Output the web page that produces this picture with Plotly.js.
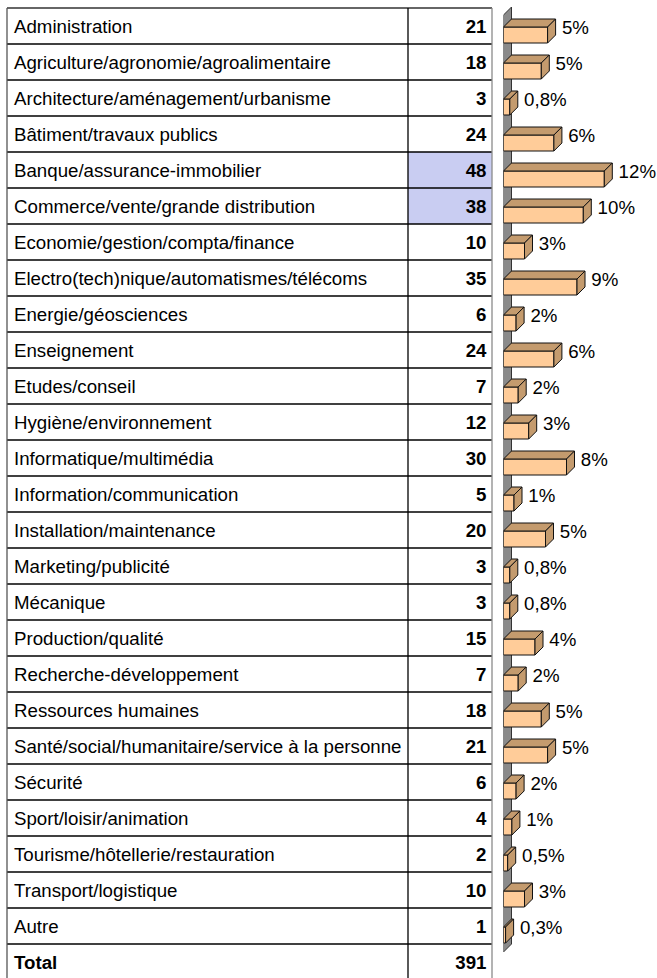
<!DOCTYPE html>
<html><head><meta charset="utf-8">
<script src="https://cdn.plot.ly/plotly-3.0.1.min.js"></script>
<style>html,body{margin:0;padding:0;background:#fff}#chart{width:657px;height:978px}</style>
</head><body><div id="chart"></div>
<script>
// ---------- DATA ----------
const categories = [
  "Administration",
  "Agriculture/agronomie/agroalimentaire",
  "Architecture/aménagement/urbanisme",
  "Bâtiment/travaux publics",
  "Banque/assurance-immobilier",
  "Commerce/vente/grande distribution",
  "Economie/gestion/compta/finance",
  "Electro(tech)nique/automatismes/télécoms",
  "Energie/géosciences",
  "Enseignement",
  "Etudes/conseil",
  "Hygiène/environnement",
  "Informatique/multimédia",
  "Information/communication",
  "Installation/maintenance",
  "Marketing/publicité",
  "Mécanique",
  "Production/qualité",
  "Recherche-développement",
  "Ressources humaines",
  "Santé/social/humanitaire/service à la personne",
  "Sécurité",
  "Sport/loisir/animation",
  "Tourisme/hôtellerie/restauration",
  "Transport/logistique",
  "Autre"
];
const counts = [21,18,3,24,48,38,10,35,6,24,7,12,30,5,20,3,3,15,7,18,21,6,4,2,10,1];
const pctLabels = ["5%","5%","0,8%","6%","12%","10%","3%","9%","2%","6%","2%","3%","8%","1%","5%","0,8%","0,8%","4%","2%","5%","5%","2%","1%","0,5%","3%","0,3%"];
const totalLabel = "Total";
const totalCount = 391;
const highlighted = ["Banque/assurance-immobilier","Commerce/vente/grande distribution"];

// ---------- GEOMETRY / STYLE ----------
const W = 657, H = 978;
const ROW = 36, TOP = 8;
const TL = 7, TM = 408, TR = 492;      // table column edges (px)
const X0 = 503.5, PXU = 2.1;           // bar zero position, px per unit
const DX = 8 / PXU, DY = 8 / ROW;      // 3D depth
const TXT_DY = 2 / ROW;                // text baseline nudge
const FONT = "Liberation Sans, Arial, sans-serif";
const FS = 18.7;
const FRONT = "#FFCC99", SHADE = "#C49B6E", WALL = "#8A8A8A";

const n = categories.length;
const nRows = n + 1;
const idx = categories.map((_, i) => i);
const allLabels = categories.concat(["<b>" + totalLabel + "</b>"]);
const allCounts = counts.map(c => "<b>" + c + "</b>").concat(["<b>" + totalCount + "</b>"]);
const rowIdx = allLabels.map((_, i) => i);

const shapes = [];
// highlighted cells
categories.forEach((c, i) => {
  if (highlighted.includes(c)) {
    shapes.push({type: "rect", xref: "x", yref: "y", x0: TM, x1: TR, y0: i - 0.5, y1: i + 0.5,
      fillcolor: "#C9CDF2", line: {width: 0}, layer: "below"});
  }
});
// horizontal table lines
for (let k = 0; k <= nRows - 1; k++) {
  shapes.push({type: "line", xref: "x", yref: "y", x0: TL, x1: TR, y0: k - 0.5, y1: k - 0.5,
    line: {color: k === 0 ? "#333" : "#000", width: 1.3}});
}
// vertical table lines
[[TL, "#555"], [TM, "#000"], [TR, "#8a8a8a"]].forEach(([x, col]) => {
  shapes.push({type: "line", xref: "x", yref: "y", x0: x, x1: x, y0: -0.5, y1: nRows + 1,
    line: {color: col, width: 1.3}});
});
// side wall of the 3D chart
const wallTop = -0.5 + 7 / ROW, wallBot = n - 0.5 + 8 / ROW;
shapes.push({type: "path", xref: "x2", yref: "y",
  path: `M 0,${wallTop} L ${DX},${wallTop - DY} L ${DX},${wallBot - DY} L 0,${wallBot} Z`,
  fillcolor: WALL, line: {color: "#333", width: 1}, layer: "below"});
// top & side faces of bars
const fTop = -0.5 + 19 / ROW, fBot = -0.5 + 35 / ROW;
counts.forEach((v, i) => {
  const yt = i + fTop, yb = i + fBot;
  shapes.push({type: "path", xref: "x2", yref: "y",
    path: `M 0,${yt} L ${v},${yt} L ${v + DX},${yt - DY} L ${DX},${yt - DY} Z`,
    fillcolor: SHADE, line: {color: "#111", width: 1}});
  shapes.push({type: "path", xref: "x2", yref: "y",
    path: `M ${v},${yt} L ${v + DX},${yt - DY} L ${v + DX},${yb - DY} L ${v},${yb} Z`,
    fillcolor: SHADE, line: {color: "#111", width: 1}});
});

const traces = [
  { // category names
    type: "scatter", mode: "text", x: rowIdx.map(() => 14), y: rowIdx.map(i => i + TXT_DY),
    text: allLabels, textposition: "middle right",
    textfont: {family: FONT, size: FS, color: "#000"}, hoverinfo: "skip", xaxis: "x", yaxis: "y"
  },
  { // counts
    type: "scatter", mode: "text", x: rowIdx.map(() => 486.5), y: rowIdx.map(i => i + TXT_DY),
    text: allCounts, textposition: "middle left",
    textfont: {family: FONT, size: FS, color: "#000"}, hoverinfo: "skip", xaxis: "x", yaxis: "y"
  },
  { // bar front faces
    type: "bar", orientation: "h", x: counts, y: idx.map(i => i + (fTop + fBot) / 2),
    width: (fBot - fTop), marker: {color: FRONT, line: {color: "#111", width: 1}},
    xaxis: "x2", yaxis: "y", hoverinfo: "skip"
  },
  { // percentage labels
    type: "scatter", mode: "text", x: counts.map(v => v + DX + 3), y: idx.map(i => i + 0.03 + TXT_DY),
    text: pctLabels, textposition: "middle right",
    textfont: {family: FONT, size: FS, color: "#000"}, xaxis: "x2", yaxis: "y", hoverinfo: "skip"
  }
];

const layout = {
  width: W, height: H,
  margin: {l: 0, r: 0, t: 0, b: 0, pad: 0},
  paper_bgcolor: "#fff", plot_bgcolor: "rgba(0,0,0,0)",
  showlegend: false,
  xaxis: {domain: [0, 1], range: [0, W], visible: false, fixedrange: true},
  xaxis2: {domain: [X0 / W, 1], range: [0, (W - X0) / PXU], visible: false, fixedrange: true, anchor: "y"},
  yaxis: {type: "linear", range: [(H - TOP) / ROW - 0.5, -TOP / ROW - 0.5], visible: false, fixedrange: true},
  shapes: shapes
};

Plotly.newPlot("chart", traces, layout, {staticPlot: true, displayModeBar: false});
</script>
</body></html>
